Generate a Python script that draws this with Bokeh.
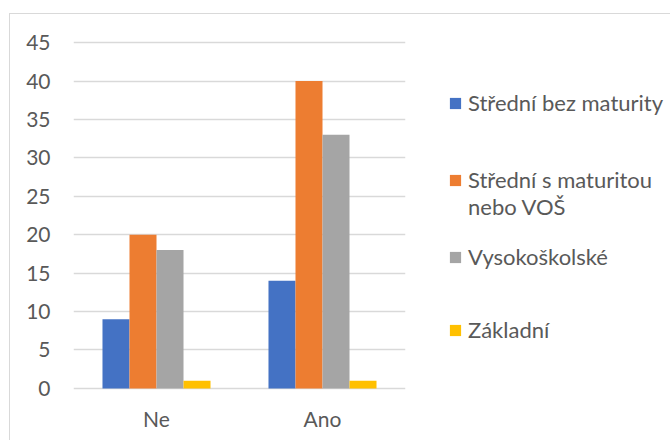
from bokeh.plotting import figure
from bokeh.models import (ColumnDataSource, FactorRange, Legend, LegendItem,
                          FixedTicker, Range1d)
from bokeh.transform import dodge
from bokeh.embed import file_html
from bokeh.resources import INLINE

categories = ["Ne", "Ano"]
series_names = ["Střední bez maturity", "\nStřední s maturitou\nnebo VOŠ",
                "Vysokoškolské", "Základní"]
bez_maturity = [9, 14]
s_maturitou = [20, 40]
vysokoskolske = [18, 33]
zakladni = [1, 1]
y_ticks = [0, 5, 10, 15, 20, 25, 30, 35, 40, 45]

colors = ["#4472C4", "#ED7D31", "#A5A5A5", "#FFC000"]
FONT = "Lato"
TXT = "#595959"

src = ColumnDataSource(dict(cat=categories, s0=bez_maturity, s1=s_maturitou,
                            s2=vysokoskolske, s3=zakladni))

p = figure(x_range=FactorRange(factors=categories), y_range=Range1d(-0.4, 45.4),
           frame_width=332, frame_height=352,
           min_border_left=63, min_border_right=20,
           min_border_top=25, min_border_bottom=49,
           output_backend="svg", toolbar_location=None)

bw = 0.1627
renderers = []
for i, key in enumerate(["s0", "s1", "s2", "s3"]):
    r = p.vbar(x=dodge("cat", (i - 1.5) * bw, range=p.x_range), top=key, width=bw,
               source=src, fill_color=colors[i], line_color=None)
    renderers.append(r)

legend = Legend(items=[LegendItem(label=series_names[i], renderers=[renderers[i]])
                       for i in range(4)],
                location=(43, 25), orientation="vertical",
                glyph_width=14, glyph_height=14, label_standoff=6,
                label_text_font=FONT, label_text_font_size="22px",
                label_text_line_height=1.15,
                label_text_color=TXT, label_height=73, spacing=0,
                padding=0, margin=0, border_line_color=None,
                background_fill_alpha=0)
p.add_layout(legend, "right")

p.outline_line_color = None
p.xgrid.grid_line_color = None
p.ygrid.grid_line_color = "#D9D9D9"
p.ygrid.grid_line_width = 1.3
p.yaxis.ticker = FixedTicker(ticks=y_ticks)

for ax in (p.xaxis[0], p.yaxis[0]):
    ax.axis_line_color = None
    ax.major_tick_line_color = None
    ax.minor_tick_line_color = None
    ax.major_label_text_font = FONT
    ax.major_label_text_font_size = "21px"
    ax.major_label_text_color = TXT
p.yaxis.major_label_standoff = 17
p.xaxis.major_label_standoff = 8

p.margin = (13, 0, 0, 9)
p.styles = {"border-left": "1px solid #D9D9D9", "border-top": "1px solid #D9D9D9"}

open("out.html", "w").write(file_html(p, INLINE))
